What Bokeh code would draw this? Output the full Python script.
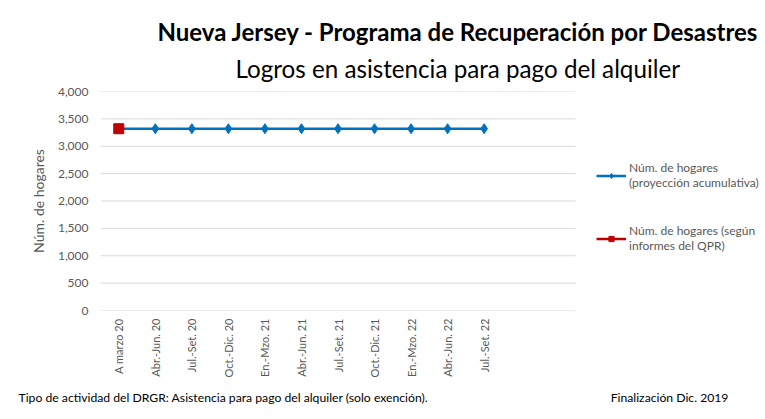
from bokeh.plotting import figure
from bokeh.models import Range1d, Legend, LegendItem, FixedTicker, Title
from bokeh.embed import file_html
from bokeh.resources import INLINE
import math

categories = ["A marzo 20", "Abr.-Jun. 20", "Jul.-Set. 20", "Oct.-Dic. 20", "En.-Mzo. 21",
              "Abr.-Jun. 21", "Jul.-Set. 21", "Oct.-Dic. 21", "En.-Mzo. 22", "Abr.-Jun. 22",
              "Jul.-Set. 22"]
proyeccion = [3320, 3320, 3320, 3320, 3320, 3320, 3320, 3320, 3320, 3320, 3320]
qpr_categories = ["A marzo 20"]
qpr_values = [3320]
y_ticks = [0, 500, 1000, 1500, 2000, 2500, 3000, 3500, 4000]
n_slots = 13  # the category axis has room for 13 periods

title_text = "Nueva Jersey - Programa de Recuperación por Desastres"
subtitle_text = "Logros en asistencia para pago del alquiler"
note_left = "Tipo de actividad del DRGR: Asistencia para pago del alquiler (solo exención)."
note_right = "Finalización Dic. 2019"
legend_labels = ["Núm. de hogares\n(proyección acumulativa)", "Núm. de hogares (según\ninformes del QPR)"]

FONT = "Lato"
GRAY = "#595959"
BLUE = "#0070c0"
RED = "#c00000"

xs = list(range(len(categories)))
qpr_x = [categories.index(c) for c in qpr_categories]

# plotting frame runs to the right edge so the legend sits inside it;
# the category slots occupy its left 475 px
W, H = 765, 419
LEFT, TOP, BOTTOM = 100, 91, 109
slot_px = 475 / n_slots
x_end = -0.5 + (W - LEFT) / slot_px

p = figure(width=W, height=H, output_backend="svg", toolbar_location=None,
           x_range=Range1d(-0.5, x_end), y_range=Range1d(0, 4000),
           min_border_left=LEFT, min_border_right=0, min_border_top=TOP,
           min_border_bottom=BOTTOM)
p.title = None
p.outline_line_color = None

# titles (closest to the chart first)
sub_title = Title(text=subtitle_text, text_font=FONT, text_font_size="24.2px",
                  text_font_style="normal", text_color="black", align="left",
                  offset=135, standoff=17)
main_title = Title(text=title_text, text_font=FONT, text_font_size="24px",
                   text_font_style="bold", text_color="black", align="left",
                   offset=57, standoff=0)
try:
    main_title.standoff = -4
except Exception:
    main_title.standoff = 0
p.add_layout(sub_title, "above")
p.add_layout(main_title, "above")

# axes
p.xaxis.ticker = FixedTicker(ticks=xs)
p.xaxis.major_label_overrides = {i: c for i, c in enumerate(categories)}
p.xaxis.major_label_orientation = math.pi / 2
p.xaxis.axis_line_color = None
p.xaxis.major_tick_line_color = None
p.xaxis.major_tick_out = 0
p.xaxis.major_tick_in = 0
p.xaxis.minor_tick_line_color = None
p.xaxis.major_label_text_font = FONT
p.xaxis.major_label_text_font_size = "11px"
p.xaxis.major_label_text_color = GRAY
p.xaxis.major_label_standoff = 8

p.yaxis.ticker = FixedTicker(ticks=y_ticks)
p.yaxis.major_label_overrides = {t: f"{t:,}" for t in y_ticks}
p.yaxis.axis_line_color = None
p.yaxis.major_tick_line_color = None
p.yaxis.major_tick_out = 0
p.yaxis.major_tick_in = 0
p.yaxis.minor_tick_line_color = None
p.yaxis.major_label_text_font = FONT
p.yaxis.major_label_text_font_size = "12px"
p.yaxis.major_label_text_color = GRAY
p.yaxis.major_label_standoff = 12
p.yaxis.axis_label = "Núm. de hogares"
p.yaxis.axis_label_text_font = FONT
p.yaxis.axis_label_text_font_size = "14px"
p.yaxis.axis_label_text_font_style = "normal"
p.yaxis.axis_label_text_color = GRAY
p.yaxis.axis_label_standoff = 8

# horizontal gridlines across the category area only
p.grid.visible = False
p.segment(x0=[-0.5] * len(y_ticks), y0=y_ticks, x1=[n_slots - 0.5] * len(y_ticks), y1=y_ticks,
          line_color="#d9d9d9", line_width=1)

# series
l1 = p.line(xs, proyeccion, line_color=BLUE, line_width=2.5)
s1 = p.scatter(xs, proyeccion, marker="diamond", size=10, fill_color=BLUE, line_color=BLUE)
l2 = p.line(qpr_x, qpr_values, line_color=RED, line_width=2.5)
s2 = p.scatter(qpr_x, qpr_values, marker="square", size=10, fill_color=RED, line_color=RED)

legend = Legend(items=[LegendItem(label=legend_labels[0], renderers=[l1, s1]),
                       LegendItem(label=legend_labels[1], renderers=[l2, s2])],
                location=(496, 57), orientation="vertical", spacing=33, glyph_width=30,
                glyph_height=13, label_text_font=FONT, label_text_font_size="12px",
                label_text_color=GRAY, border_line_color=None, background_fill_alpha=0,
                padding=0, margin=0, label_standoff=3, label_height=13)
p.add_layout(legend, "center")

# footnotes on one line under the axis
gap = "\u2003" * 19 + "\u00a0" * 3
p.add_layout(Title(text=note_left + gap + note_right, text_font=FONT, text_font_size="12.2px",
                   text_font_style="normal", text_color="black", align="left",
                   offset=18 - LEFT, standoff=15), "below")

open("out.html", "w").write(file_html(p, INLINE))
